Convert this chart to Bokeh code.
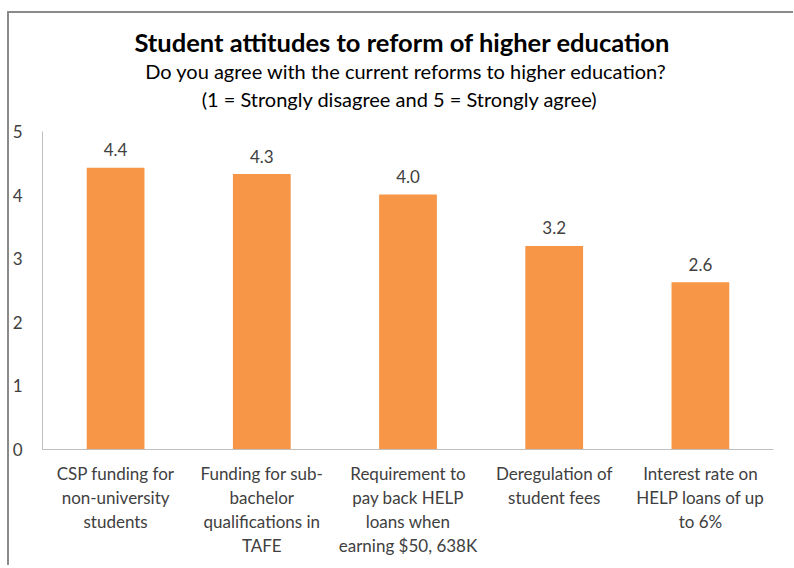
from bokeh.plotting import figure
from bokeh.layouts import column
from bokeh.models import Range1d, FixedTicker, ColumnDataSource
from bokeh.embed import file_html
from bokeh.resources import INLINE
from bokeh.core.properties import value

categories = [
    "CSP funding for\nnon-university\nstudents",
    "Funding for sub-\nbachelor\nqualifications in\nTAFE",
    "Requirement to\npay back HELP\nloans when\nearning $50, 638K",
    "Deregulation of\nstudent fees",
    "Interest rate on\nHELP loans of up\nto 6%",
]
scores = [4.43, 4.33, 4.01, 3.20, 2.63]
score_labels = ["4.4", "4.3", "4.0", "3.2", "2.6"]
y_ticks = [0, 1, 2, 3, 4, 5]
title_text = "Student attitudes to reform of higher education"
subtitle_lines = ["Do you agree with the current reforms to higher education?",
                  "(1 = Strongly disagree and 5 = Strongly agree)"]

FONT = "Lato"
TXT = "#404040"

W = 784
TH = 105                      # height of the title strip
H = 447                       # height of the chart below it
ML, MR, MT, MB = 26, 20, 13, 116

# ---- title strip (pixel coordinates) ----
top = figure(width=W, height=TH, x_range=Range1d(0, W), y_range=Range1d(0, TH),
             output_backend="svg", toolbar_location=None,
             x_axis_location=None, y_axis_location=None,
             min_border=0, outline_line_color=None)
top.grid.grid_line_color = None
top.text(x=[386], y=[TH - 28], text=[title_text], text_align="center", text_baseline="middle",
         text_font=value(FONT), text_font_size="25.5px", text_font_style="bold", text_color="#000000")
top.text(x=[390, 383], y=[TH - 57, TH - 85], text=subtitle_lines, text_align="center",
         text_baseline="middle", text_font=value(FONT), text_font_size="20px", text_color="#000000")

# ---- bar chart ----
src = ColumnDataSource(dict(cat=categories, val=scores, lab=score_labels))

p = figure(
    x_range=categories, y_range=Range1d(0, 5),
    width=W, height=H,
    output_backend="svg", toolbar_location=None,
    min_border_left=ML, min_border_right=MR, min_border_bottom=MB, min_border_top=MT,
)
p.vbar(x="cat", top="val", width=0.395, source=src, fill_color="#F79646", line_color=None)
p.text(x="cat", y="val", text="lab", source=src, y_offset=-18, text_align="center",
       text_baseline="middle", text_font=value(FONT), text_font_size="17px", text_color=TXT)

p.outline_line_color = None
p.xgrid.grid_line_color = None
p.ygrid.grid_line_color = None

p.yaxis.ticker = FixedTicker(ticks=y_ticks)
p.yaxis.axis_line_color = "#BFBFBF"
p.yaxis.major_tick_line_color = None
p.yaxis.minor_tick_line_color = None
p.yaxis.major_label_standoff = 14
p.yaxis.major_label_text_font = FONT
p.yaxis.major_label_text_font_size = "17px"
p.yaxis.major_label_text_color = TXT

p.xaxis.axis_line_color = "#BFBFBF"
p.xaxis.major_tick_line_color = None
p.xaxis.major_label_standoff = 7
p.xaxis.major_label_text_font = FONT
p.xaxis.major_label_text_font_size = "17px"
p.xaxis.major_label_text_color = TXT
p.xaxis.major_label_text_line_height = 1.15

layout = column(top, p, spacing=0,
                styles={"position": "relative", "top": "11px", "left": "7px",
                        "border-top": "2px solid #8a8a8a", "border-left": "2px solid #8a8a8a"})

open("out.html", "w").write(file_html(layout, INLINE))
